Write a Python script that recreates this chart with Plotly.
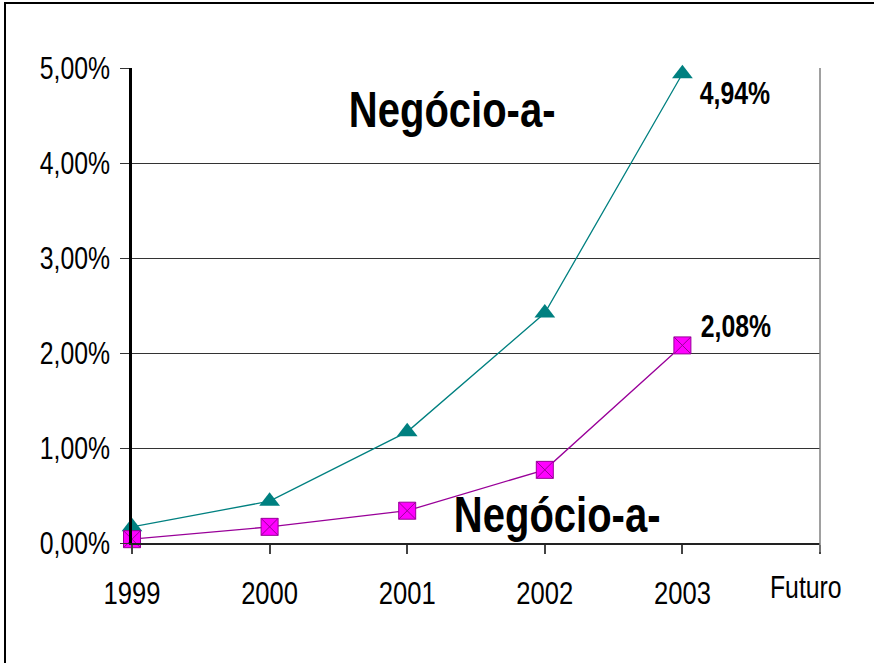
import plotly.graph_objects as go

# Data
years = [1999, 2000, 2001, 2002, 2003]
tick_years = [1999, 2000, 2001, 2002, 2003, 2004]
tick_text = ["1999", "2000", "2001", "2002", "2003", ""]
serie_a = [0.17, 0.44, 1.17, 2.42, 4.94]   # % (triangles)
serie_b = [0.04, 0.17, 0.34, 0.77, 2.08]   # % (squares)
y_ticks = [0, 1, 2, 3, 4, 5]
y_tick_text = ["0,00%", "1,00%", "2,00%", "3,00%", "4,00%", "5,00%"]

W, H = 874, 663
ML, MR, MT, MB = 132, 54, 68, 120
PW, PH = W - ML - MR, H - MT - MB

def px_x(x):
    return (x - ML) / PW

def px_y(y):
    return (H - MB - y) / PH

FONT = "Liberation Sans, Arial, sans-serif"
TEAL = "#008080"
MAGENTA = "#FF00FF"
PURPLE = "#990099"

fig = go.Figure()

fig.add_trace(go.Scatter(
    x=years, y=serie_a, mode="lines+markers",
    line=dict(color=TEAL, width=1.3),
    marker=dict(symbol="triangle-up", size=18, color=TEAL, line=dict(width=0)),
    cliponaxis=False, showlegend=False,
))
fig.add_trace(go.Scatter(
    x=years, y=serie_b, mode="lines+markers",
    line=dict(color=PURPLE, width=1.3),
    marker=dict(symbol="square-x", size=17, color=MAGENTA,
                line=dict(color=PURPLE, width=1)),
    cliponaxis=False, showlegend=False,
))

def fmt(v):
    return f"{v:.2f}".replace(".", ",") + "%"

annotations = [
    dict(x=years[-1], y=serie_a[-1], text="<b>" + fmt(serie_a[-1]) + "</b>",
         xref="x", yref="y", showarrow=False, xanchor="left", yanchor="middle",
         xshift=7, yshift=-20, font=dict(family=FONT, size=31, color="black")),
    dict(x=years[-1], y=serie_b[-1], text="<b>" + fmt(serie_b[-1]) + "</b>",
         xref="x", yref="y", showarrow=False, xanchor="left", yanchor="middle",
         xshift=8, yshift=19, font=dict(family=FONT, size=31, color="black")),
    dict(x=px_x(452), y=px_y(110), text="<b>Negócio-a-</b>",
         xref="paper", yref="paper", showarrow=False, xanchor="center", yanchor="middle",
         font=dict(family=FONT, size=50, color="black")),
    dict(x=px_x(557), y=px_y(515), text="<b>Negócio-a-</b>",
         xref="paper", yref="paper", showarrow=False, xanchor="center", yanchor="middle",
         font=dict(family=FONT, size=50, color="black")),
    dict(x=px_x(806), y=px_y(587), text="Futuro",
         xref="paper", yref="paper", showarrow=False, xanchor="center", yanchor="middle",
         font=dict(family=FONT, size=31, color="black")),
]

shapes = [
    # right edge of plot area
    dict(type="line", xref="paper", yref="paper", x0=1, x1=1, y0=px_y(552), y1=1,
         line=dict(color="#808080", width=1.5)),
    # outer frame
    dict(type="rect", xref="paper", yref="paper",
         x0=px_x(5), x1=px_x(890), y0=px_y(680), y1=px_y(3),
         line=dict(color="black", width=2), layer="below"),
]

fig.update_layout(
    width=W, height=H,
    margin=dict(l=ML, r=MR, t=MT, b=MB),
    paper_bgcolor="white", plot_bgcolor="white",
    annotations=annotations, shapes=shapes,
    font=dict(family=FONT, size=30, color="black"),
)

fig.update_xaxes(
    range=[1999, 2004], tickvals=tick_years, ticktext=tick_text,
    showgrid=False, zeroline=False,
    showline=True, linecolor="#222", linewidth=2,
    ticks="outside", ticklen=9, tickcolor="#444", tickwidth=1.5,
    ticklabelstandoff=12,
    tickfont=dict(family=FONT, size=32, color="black"),
)
fig.update_yaxes(
    range=[0, 5], tickvals=y_ticks, ticktext=y_tick_text,
    showgrid=True, gridcolor="#333", gridwidth=1.2, zeroline=False,
    showline=True, linecolor="black", linewidth=2.5,
    ticks="outside", ticklen=9, tickcolor="#333", tickwidth=1.2,
    ticklabelstandoff=4,
    tickfont=dict(family=FONT, size=31, color="black"),
)

# Narrow the lettering (condensed look) by compressing each text run in place.
condense_js = """
var gd = document.getElementById('{plot_id}');
function condense() {
  gd.querySelectorAll('svg text').forEach(function (t) {
    if (!t.textContent) return;
    t.removeAttribute('textLength');
    t.removeAttribute('lengthAdjust');
    var L = t.getComputedTextLength();
    if (L > 0) {
      t.setAttribute('textLength', (L * 0.8).toFixed(2));
      t.setAttribute('lengthAdjust', 'spacingAndGlyphs');
    }
  });
}
condense();
gd.on('plotly_afterplot', condense);
"""

fig.write_html("out.html", post_script=condense_js)
